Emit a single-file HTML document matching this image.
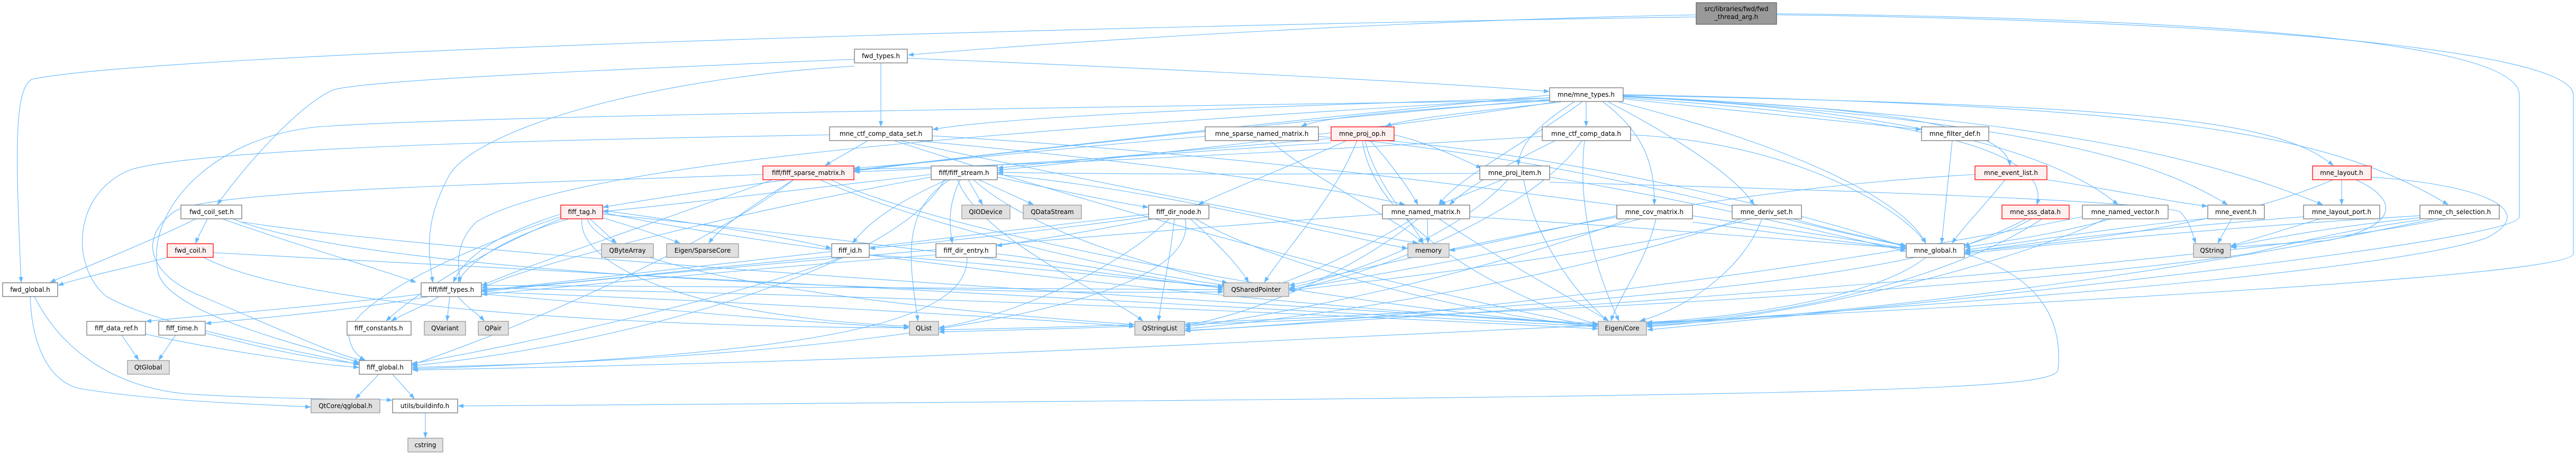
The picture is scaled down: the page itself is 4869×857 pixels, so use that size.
<!DOCTYPE html>
<html><head><meta charset="utf-8"><style>
html,body{margin:0;padding:0;background:#fff;}
svg{display:block;}
.e path{fill:none;stroke:#63b8ff;stroke-width:1.1;}
.n rect{stroke-width:1.3;}
.w{fill:#fff;stroke:#777;}
.g{fill:#e0e0e0;stroke:#999;}
.r{fill:#fff0f0;stroke:#f00;}
.d{fill:#999;stroke:#666;}
text{font-family:"DejaVu Sans","Liberation Sans",sans-serif;font-size:12px;fill:#000;text-anchor:middle;}
</style></head><body>
<svg width="4869" height="857" viewBox="0 0 4869 857" xmlns="http://www.w3.org/2000/svg">
<defs><marker id="a" markerUnits="userSpaceOnUse" markerWidth="11" markerHeight="8" refX="10" refY="4" orient="auto"><path d="M0,0 L11,4 L0,8 z" fill="#63b8ff"/></marker></defs>
<g class="e" marker-end="url(#a)">
<path d="M3206,28 C2600,40 2000,80 1717,104"/>
<path d="M3206,32 C2000,50 300,100 60,150 C25,170 30,300 40,534"/>
<path d="M3358,26 C4200,35 4762,80 4762,180 L4762,410 C4762,450 4000,540 3114,624"/>
<path d="M3358,28 C4300,40 4864,100 4864,180 L4864,480 C4864,520 4000,570 2500,640 C1500,690 1000,695 780,700"/>
<path d="M1615,112 C1200,130 700,150 630,170 C560,200 450,330 411,387"/>
<path d="M1615,125 C1200,150 900,250 850,330 C800,420 810,480 818,534"/>
<path d="M1665,119 L1665,239"/>
<path d="M1715,110 C2200,130 2700,155 2928,173"/>
<path d="M2935,185 C2400,200 1900,220 1763,245"/>
<path d="M2940,190 C2700,205 2500,220 2460,239"/>
<path d="M2950,193 C2800,210 2650,225 2620,239"/>
<path d="M2929,180 C2400,230 1800,300 1615,322"/>
<path d="M2940,193 C2500,260 2000,310 1886,322"/>
<path d="M2990,193 C2900,260 2750,340 2720,387"/>
<path d="M2975,193 C2900,240 2870,280 2870,313"/>
<path d="M2998,193 L2998,239"/>
<path d="M3068,187 C3300,210 3500,230 3631,245"/>
<path d="M3068,183 C3500,200 3790,230 3799,313"/>
<path d="M3030,193 C3120,260 3127,330 3127,387"/>
<path d="M3040,193 C3150,250 3280,330 3315,387"/>
<path d="M3068,185 C3600,220 3880,280 3850,387"/>
<path d="M3068,183 C3650,210 3900,300 4003,387"/>
<path d="M3068,181 C3900,230 4100,320 4210,387"/>
<path d="M3068,180 C4000,200 4300,220 4410,313"/>
<path d="M3068,182 C3900,220 4200,310 4390,387"/>
<path d="M3068,179 C4100,200 4400,250 4627,387"/>
<path d="M3060,193 C3400,280 3600,380 3640,460"/>
<path d="M2929,185 C2000,240 1100,300 900,420 C860,460 865,500 870,534"/>
<path d="M2929,188 C2200,250 1500,330 1140,392"/>
<path d="M2929,190 C1500,210 800,225 600,240 C400,260 270,400 300,520 C330,600 600,660 679,686"/>
<path d="M1568,255 C1000,265 400,280 250,320 C140,360 130,500 200,560 C300,620 600,670 679,690"/>
<path d="M1442,330 C900,350 400,360 330,400 C260,450 280,520 380,560 C500,610 650,680 690,682"/>
<path d="M392,414 C385,430 375,445 370,460"/>
<path d="M370,414 C300,450 150,510 95,534"/>
<path d="M420,414 C550,460 720,510 786,534"/>
<path d="M457,420 C1000,500 2500,580 3020,615"/>
<path d="M440,414 C700,520 1800,560 2312,552"/>
<path d="M316,487 C250,505 150,525 110,540"/>
<path d="M403,478 C1200,520 2500,590 3020,618"/>
<path d="M385,487 C600,600 1400,620 1718,620"/>
<path d="M57,561 C60,650 90,720 150,735 C300,760 500,765 587,770"/>
<path d="M65,561 C110,650 200,730 350,745 C500,755 700,755 741,757"/>
<path d="M800,556 C600,580 350,600 276,608"/>
<path d="M810,561 C650,590 450,605 389,612"/>
<path d="M830,561 C800,580 760,595 740,607"/>
<path d="M850,561 L845,607"/>
<path d="M866,561 C880,580 905,595 915,607"/>
<path d="M910,556 C1200,580 1500,610 1718,620"/>
<path d="M910,552 C1400,570 1900,600 2144,618"/>
<path d="M910,545 C1800,560 2600,600 3020,622"/>
<path d="M910,540 C1500,545 2000,548 2312,548"/>
<path d="M230,634 L262,681"/>
<path d="M275,632 C400,660 600,690 678,695"/>
<path d="M332,634 L300,681"/>
<path d="M388,630 C500,660 600,680 678,688"/>
<path d="M716,708 L672,754"/>
<path d="M742,708 L783,754"/>
<path d="M804,781 L804,828"/>
<path d="M1115,414 L1165,460"/>
<path d="M1139,412 C1200,430 1260,450 1285,460"/>
<path d="M1075,414 C950,450 880,500 866,534"/>
<path d="M1060,405 C950,440 880,480 857,534"/>
<path d="M1139,398 C1300,420 1500,450 1571,470"/>
<path d="M1060,414 C900,480 780,560 730,607"/>
<path d="M1060,410 C850,480 650,580 660,640 C665,665 680,676 690,681"/>
<path d="M1100,414 C1090,500 1300,600 1718,617"/>
<path d="M1110,414 C1150,530 1800,590 2144,614"/>
<path d="M1139,405 C1600,450 2100,520 2312,545"/>
<path d="M1139,402 C1500,480 2500,590 3020,612"/>
<path d="M1460,340 C1300,400 1000,500 911,540"/>
<path d="M1500,340 C1420,390 1360,430 1340,460"/>
<path d="M1550,340 C1750,430 2150,520 2320,540"/>
<path d="M1570,340 C1800,450 2600,590 3020,615"/>
<path d="M1500,340 C1400,420 1100,580 779,690"/>
<path d="M1830,340 L1857,387"/>
<path d="M1850,340 L1953,387"/>
<path d="M1885,335 C2000,360 2120,385 2170,392"/>
<path d="M1760,330 C1500,360 1250,390 1140,400"/>
<path d="M1790,340 C1700,380 1640,420 1612,460"/>
<path d="M1815,340 C1790,390 1795,430 1800,460"/>
<path d="M1795,340 C1700,400 1720,500 1735,607"/>
<path d="M1810,340 C1850,450 2100,560 2160,607"/>
<path d="M1840,340 C1950,440 2200,510 2320,535"/>
<path d="M1760,335 C1400,400 1000,500 911,545"/>
<path d="M1785,340 C1700,500 1200,650 779,692"/>
<path d="M1885,330 C2200,360 2500,440 2660,470"/>
<path d="M2171,410 C1950,440 1750,460 1644,470"/>
<path d="M2180,414 C2050,440 1950,455 1884,465"/>
<path d="M2250,414 C2300,460 2340,500 2360,534"/>
<path d="M2210,414 C2100,520 1900,600 1775,620"/>
<path d="M2220,414 C2210,500 2195,560 2190,607"/>
<path d="M2171,405 C1800,450 1200,520 911,550"/>
<path d="M2240,414 C2280,600 1500,680 779,695"/>
<path d="M2260,414 C2400,500 2800,600 3020,618"/>
<path d="M1769,482 C1400,510 1100,540 911,557"/>
<path d="M1883,480 C2050,500 2200,530 2312,545"/>
<path d="M1828,487 C1830,600 1600,670 779,698"/>
<path d="M1572,485 C1300,510 1050,540 911,548"/>
<path d="M1643,482 C1900,500 2150,530 2312,542"/>
<path d="M1590,487 C1400,560 1000,650 779,688"/>
<path d="M1640,266 C1610,285 1580,300 1560,313"/>
<path d="M1730,266 C2100,300 2500,350 2655,387"/>
<path d="M1700,266 C2000,330 2500,430 2680,460"/>
<path d="M1762,257 C2500,300 3300,420 3602,470"/>
<path d="M1690,266 C2100,400 2700,560 3020,618"/>
<path d="M2278,258 C2000,280 1800,305 1615,318"/>
<path d="M2400,266 C2500,350 2650,420 2690,460"/>
<path d="M2492,258 C3000,300 3400,430 3602,465"/>
<path d="M2516,262 C2300,280 2000,305 1886,318"/>
<path d="M2545,266 C2450,310 2320,360 2265,387"/>
<path d="M2635,255 C2700,270 2760,300 2800,318"/>
<path d="M2590,266 C2630,310 2665,360 2680,387"/>
<path d="M2580,266 C2600,350 2670,420 2690,460"/>
<path d="M2565,266 C2520,380 2430,470 2390,534"/>
<path d="M2575,266 C2600,450 2900,580 3020,614"/>
<path d="M2516,270 C2200,290 1900,315 1615,325"/>
<path d="M2620,266 C3000,300 3400,400 3603,468"/>
<path d="M2698,414 L2699,460"/>
<path d="M2670,414 C2580,470 2470,520 2410,540"/>
<path d="M2680,414 C2550,520 2350,600 2240,615"/>
<path d="M2720,414 C2850,500 2980,570 3040,607"/>
<path d="M2778,410 C3100,430 3400,455 3602,470"/>
<path d="M2613,405 C2000,450 1200,520 911,552"/>
<path d="M2940,266 C2850,310 2780,350 2740,387"/>
<path d="M2915,258 C2400,290 1900,315 1615,320"/>
<path d="M3082,255 C3400,270 3600,400 3640,460"/>
<path d="M2995,266 C2980,400 3020,520 3060,607"/>
<path d="M2990,266 C2900,400 2600,520 2437,548"/>
<path d="M2840,340 C2790,360 2750,375 2722,387"/>
<path d="M2797,328 C2400,330 2100,330 1886,326"/>
<path d="M2929,335 C3200,380 3450,440 3602,475"/>
<path d="M2880,340 C2900,450 2980,560 3040,607"/>
<path d="M2850,340 C2750,450 2550,520 2437,545"/>
<path d="M2929,345 C3500,360 4050,380 4120,400 C4140,420 4145,445 4150,460"/>
<path d="M3690,266 L3670,460"/>
<path d="M3869,340 C4000,360 4120,385 4172,390"/>
<path d="M3790,340 C3750,390 3710,430 3690,460"/>
<path d="M3733,330 C3200,360 2700,480 2437,540"/>
<path d="M3199,420 C3350,440 3500,460 3602,470"/>
<path d="M3130,414 C3110,500 3060,560 3045,607"/>
<path d="M3100,414 C2900,470 2600,520 2437,548"/>
<path d="M3080,414 C2800,520 2400,600 2240,618"/>
<path d="M3056,408 C2950,430 2820,460 2740,474"/>
<path d="M3390,414 C3480,440 3560,455 3603,465"/>
<path d="M3330,414 C3300,500 3200,580 3100,607"/>
<path d="M3310,414 C3100,470 2700,520 2437,550"/>
<path d="M3290,414 C3000,520 2500,600 2240,622"/>
<path d="M3830,414 C3780,440 3740,455 3712,465"/>
<path d="M3860,414 C3700,520 3400,600 3113,612"/>
<path d="M3840,414 C3600,560 2500,610 1775,624"/>
<path d="M3990,414 C3900,440 3800,455 3714,468"/>
<path d="M3980,414 C3800,500 3400,600 3113,618"/>
<path d="M3936,410 C3400,520 2600,610 2240,625"/>
<path d="M3640,487 C3550,560 3300,600 3113,610"/>
<path d="M3713,480 C3850,520 3900,600 3890,700 C3880,740 3500,750 866,768"/>
<path d="M4218,414 L4192,460"/>
<path d="M4173,413 C4000,430 3850,455 3714,473"/>
<path d="M4426,340 L4426,387"/>
<path d="M4410,340 C4200,430 3900,460 3714,476"/>
<path d="M4453,340 C4540,380 4530,430 4400,455 C4300,462 4250,465 4217,468"/>
<path d="M4482,335 C4700,350 4800,400 4700,450 C4500,520 3600,580 3113,614"/>
<path d="M4385,414 C4300,440 4250,455 4217,465"/>
<path d="M4354,410 C4100,430 3900,450 3714,478"/>
<path d="M4574,412 C4400,430 4300,450 4217,466"/>
<path d="M4574,408 C4200,430 3900,460 3714,480"/>
<path d="M4600,414 C4300,480 3700,580 3113,616"/>
<path d="M4620,414 C4200,500 3000,580 2240,626"/>
<path d="M4574,416 C4400,440 4300,470 4250,480 C3700,560 2500,610 1775,628"/>
</g>
<g class="n">
<rect class="d" x="3206" y="5" width="152" height="41"/><text x="3282" y="21">src/libraries/fwd/fwd</text><text x="3282" y="36">_thread_arg.h</text>
<rect class="w" x="1615" y="93" width="100" height="26"/><text x="1665" y="110">fwd_types.h</text>
<rect class="w" x="2929" y="166" width="139" height="26"/><text x="2998" y="183">mne/mne_types.h</text>
<rect class="w" x="1568" y="240" width="194" height="26"/><text x="1665" y="257">mne_ctf_comp_data_set.h</text>
<rect class="w" x="2278" y="240" width="214" height="26"/><text x="2385" y="257">mne_sparse_named_matrix.h</text>
<rect class="r" x="2516" y="240" width="119" height="26"/><text x="2575" y="257">mne_proj_op.h</text>
<rect class="w" x="2915" y="240" width="167" height="26"/><text x="2998" y="257">mne_ctf_comp_data.h</text>
<rect class="w" x="3632" y="240" width="127" height="26"/><text x="3695" y="257">mne_filter_def.h</text>
<rect class="r" x="1442" y="314" width="172" height="26"/><text x="1528" y="331">fiff/fiff_sparse_matrix.h</text>
<rect class="w" x="1760" y="314" width="125" height="26"/><text x="1822" y="331">fiff/fiff_stream.h</text>
<rect class="w" x="2797" y="314" width="132" height="26"/><text x="2863" y="331">mne_proj_item.h</text>
<rect class="r" x="3733" y="314" width="136" height="26"/><text x="3801" y="331">mne_event_list.h</text>
<rect class="r" x="4371" y="314" width="111" height="26"/><text x="4426" y="331">mne_layout.h</text>
<rect class="w" x="342" y="388" width="115" height="26"/><text x="400" y="405">fwd_coil_set.h</text>
<rect class="r" x="1060" y="388" width="79" height="26"/><text x="1100" y="405">fiff_tag.h</text>
<rect class="g" x="1818" y="388" width="91" height="26"/><text x="1863" y="405">QIODevice</text>
<rect class="g" x="1934" y="388" width="110" height="26"/><text x="1989" y="405">QDataStream</text>
<rect class="w" x="2171" y="388" width="114" height="26"/><text x="2228" y="405">fiff_dir_node.h</text>
<rect class="w" x="2613" y="388" width="165" height="26"/><text x="2695" y="405">mne_named_matrix.h</text>
<rect class="w" x="3056" y="388" width="143" height="26"/><text x="3127" y="405">mne_cov_matrix.h</text>
<rect class="w" x="3274" y="388" width="131" height="26"/><text x="3339" y="405">mne_deriv_set.h</text>
<rect class="r" x="3784" y="388" width="127" height="26"/><text x="3847" y="405">mne_sss_data.h</text>
<rect class="w" x="3936" y="388" width="162" height="26"/><text x="4017" y="405">mne_named_vector.h</text>
<rect class="w" x="4173" y="388" width="107" height="26"/><text x="4226" y="405">mne_event.h</text>
<rect class="w" x="4354" y="388" width="144" height="26"/><text x="4426" y="405">mne_layout_port.h</text>
<rect class="w" x="4574" y="388" width="150" height="26"/><text x="4649" y="405">mne_ch_selection.h</text>
<rect class="r" x="316" y="461" width="87" height="26"/><text x="360" y="478">fwd_coil.h</text>
<rect class="g" x="1137" y="461" width="98" height="26"/><text x="1186" y="478">QByteArray</text>
<rect class="g" x="1260" y="461" width="136" height="26"/><text x="1328" y="478">Eigen/SparseCore</text>
<rect class="w" x="1572" y="461" width="71" height="26"/><text x="1607" y="478">fiff_id.h</text>
<rect class="w" x="1769" y="461" width="114" height="26"/><text x="1826" y="478">fiff_dir_entry.h</text>
<rect class="g" x="2661" y="461" width="78" height="26"/><text x="2700" y="478">memory</text>
<rect class="w" x="3603" y="461" width="110" height="26"/><text x="3658" y="478">mne_global.h</text>
<rect class="g" x="4146" y="461" width="70" height="26"/><text x="4181" y="478">QString</text>
<rect class="w" x="5" y="535" width="104" height="26"/><text x="57" y="552">fwd_global.h</text>
<rect class="w" x="796" y="535" width="114" height="26"/><text x="853" y="552">fiff/fiff_types.h</text>
<rect class="g" x="2313" y="535" width="123" height="26"/><text x="2374" y="552">QSharedPointer</text>
<rect class="w" x="164" y="608" width="111" height="26"/><text x="220" y="625">fiff_data_ref.h</text>
<rect class="w" x="300" y="608" width="88" height="26"/><text x="344" y="625">fiff_time.h</text>
<rect class="w" x="656" y="608" width="121" height="26"/><text x="716" y="625">fiff_constants.h</text>
<rect class="g" x="802" y="608" width="78" height="26"/><text x="841" y="625">QVariant</text>
<rect class="g" x="904" y="608" width="57" height="26"/><text x="932" y="625">QPair</text>
<rect class="g" x="1719" y="608" width="55" height="26"/><text x="1746" y="625">QList</text>
<rect class="g" x="2145" y="608" width="94" height="26"/><text x="2192" y="625">QStringList</text>
<rect class="g" x="3021" y="608" width="91" height="26"/><text x="3066" y="625">Eigen/Core</text>
<rect class="g" x="241" y="682" width="79" height="26"/><text x="280" y="699">QtGlobal</text>
<rect class="w" x="679" y="682" width="99" height="26"/><text x="728" y="699">fiff_global.h</text>
<rect class="g" x="588" y="755" width="130" height="26"/><text x="653" y="772">QtCore/qglobal.h</text>
<rect class="w" x="742" y="755" width="123" height="26"/><text x="803" y="772">utils/buildinfo.h</text>
<rect class="g" x="771" y="829" width="66" height="26"/><text x="804" y="846">cstring</text>
</g>
</svg>
</body></html>
